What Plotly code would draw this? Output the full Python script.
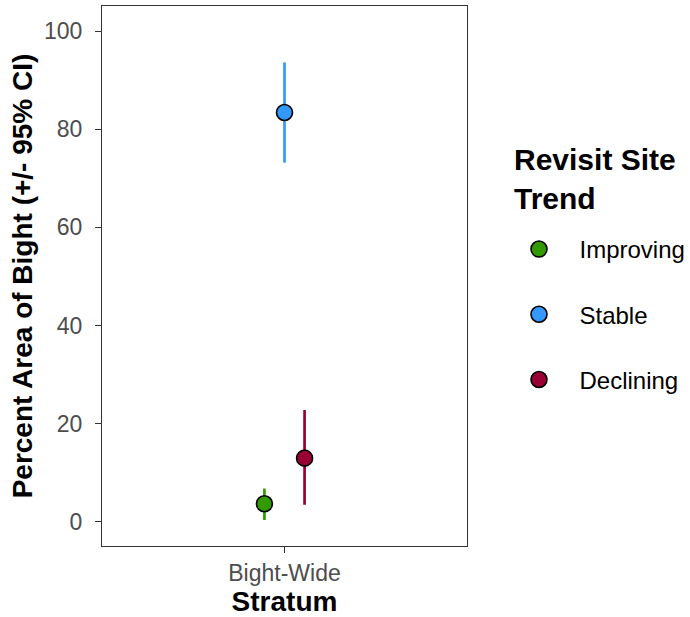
import plotly.graph_objects as go

# Estimates of percent area by revisit-site trend, with 95% confidence limits
stratum = ["Bight-Wide"]
trends = ["Improving", "Stable", "Declining"]
estimate = [3.7, 83.4, 13.0]
ci_lower = [0.4, 73.2, 3.5]
ci_upper = [6.8, 93.6, 22.8]
colors = ["#339900", "#3399FF", "#990033"]
legend_title = ["Revisit Site", "Trend"]

dodge = 0.066
fig = go.Figure()
for i, name in enumerate(trends):
    x = 1 + (i - 1) * dodge
    fig.add_trace(go.Scatter(
        x=[x], y=[estimate[i]],
        mode="markers",
        name=name,
        legendgroup=name,
        marker=dict(size=16, color=colors[i], line=dict(color="black", width=1.6)),
        error_y=dict(
            type="data", symmetric=False,
            array=[ci_upper[i] - estimate[i]],
            arrayminus=[estimate[i] - ci_lower[i]],
            color=colors[i], thickness=2.7, width=0,
        ),
    ))

# Legend heading placed above the legend entries
fig.add_annotation(
    text="<b>" + "<br>".join(legend_title) + "</b>", xref="paper", yref="paper",
    x=1.1233, y=0.6796, xanchor="left", yanchor="middle", align="left",
    showarrow=False, font=dict(size=30, color="black"),
)

font_family = "Liberation Sans, Arial, sans-serif"
fig.update_layout(
    width=690, height=617,
    margin=dict(l=102, r=223, t=6, b=71, autoexpand=False),
    paper_bgcolor="white", plot_bgcolor="white",
    font=dict(family=font_family, color="black"),
    showlegend=True,
    legend=dict(
        font=dict(size=24, color="black"),
        x=1.0863, xanchor="left", y=0.5908, yanchor="top",
        tracegroupgap=31, itemwidth=71,
        bgcolor="rgba(0,0,0,0)",
    ),
    xaxis=dict(
        range=[0.4, 1.6], tickmode="array", tickvals=[1], ticktext=stratum,
        showgrid=False, zeroline=False, mirror=True, showline=True, automargin=False,
        linecolor="#333333", linewidth=1.2,
        ticks="outside", ticklen=6, tickcolor="#333333", tickwidth=1.2,
        tickfont=dict(size=23, color="#4D4D4D"), ticklabelstandoff=0,
        title=dict(text="<b>Stratum</b>", font=dict(size=28, color="black"), standoff=4),
    ),
    yaxis=dict(
        range=[-4.9, 105.1], tickvals=[0, 20, 40, 60, 80, 100],
        showgrid=False, zeroline=False, mirror=True, showline=True, automargin=False,
        linecolor="#333333", linewidth=1.2,
        ticks="outside", ticklen=6, tickcolor="#333333", tickwidth=1.2,
        tickfont=dict(size=23, color="#4D4D4D"), ticklabelstandoff=8,
        title=dict(text="<b>Percent Area of Bight (+/- 95% CI)</b>", font=dict(size=28, color="black"), standoff=3),
    ),
)

fig.write_html("out.html")
